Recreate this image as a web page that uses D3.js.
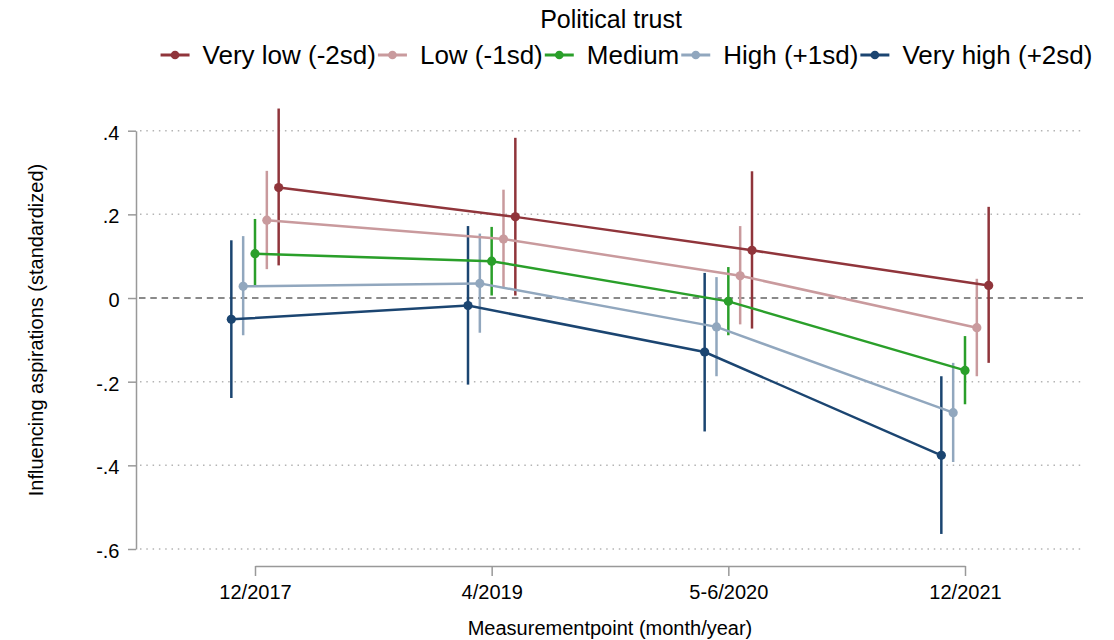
<!DOCTYPE html>
<html><head><meta charset="utf-8">
<script src="https://cdn.jsdelivr.net/npm/d3@7"></script>
<style>
body{margin:0;background:#fff}
svg{display:block}
text{font-family:"Liberation Sans",Arial,Helvetica,sans-serif;fill:#000}
</style>
</head><body>
<svg id="c" width="1114" height="640"></svg>
<script>
// ---- data ----
const categories = ["12/2017", "4/2019", "5-6/2020", "12/2021"];
const seriesNames = ["Very low (-2sd)", "Low (-1sd)", "Medium", "High (+1sd)", "Very high (+2sd)"];
const seriesColors = ["#90353b", "#c99a9d", "#2a9f2a", "#91a7be", "#1b4571"];

const estVeryLow  = [0.264, 0.194, 0.114, 0.030];
const loVeryLow   = [0.078, 0.006, -0.073, -0.155];
const hiVeryLow   = [0.453, 0.383, 0.303, 0.218];

const estLow      = [0.186, 0.141, 0.053, -0.071];
const loLow       = [0.069, 0.026, -0.063, -0.187];
const hiLow       = [0.304, 0.259, 0.172, 0.046];

const estMedium   = [0.106, 0.088, -0.008, -0.173];
const loMedium    = [0.030, 0.006, -0.089, -0.254];
const hiMedium    = [0.189, 0.170, 0.074, -0.091];

const estHigh     = [0.028, 0.035, -0.069, -0.274];
const loHigh      = [-0.089, -0.083, -0.187, -0.392];
const hiHigh      = [0.148, 0.154, 0.050, -0.155];

const estVeryHigh = [-0.051, -0.018, -0.129, -0.376];
const loVeryHigh  = [-0.239, -0.207, -0.319, -0.564];
const hiVeryHigh  = [0.138, 0.172, 0.060, -0.187];

const yTicks = [0.4, 0.2, 0, -0.2, -0.4, -0.6];
const yTickLabels = [".4", ".2", "0", "-.2", "-.4", "-.6"];

const estimates = [estVeryLow, estLow, estMedium, estHigh, estVeryHigh];
const lows = [loVeryLow, loLow, loMedium, loHigh, loVeryHigh];
const highs = [hiVeryLow, hiLow, hiMedium, hiHigh, hiVeryHigh];
const dodge = 0.05; // category units between adjacent series

// ---- scales ----
const svg = d3.select("#c");
const xBand = d3.scalePoint().domain(categories).range([255, 965]);
const xLin = d3.scaleLinear().domain([0, categories.length - 1]).range([255, 965]);
const y = d3.scaleLinear().domain([-0.6, 0.4]).range([549, 130.7]);
const plotL = 140, plotR = 1083;

// ---- gridlines ----
svg.append("g").selectAll("line")
  .data(yTicks.filter(d => d !== 0)).join("line")
  .attr("x1", plotL).attr("x2", plotR)
  .attr("y1", d => y(d)).attr("y2", d => y(d))
  .attr("stroke", "#b4b4b4").attr("stroke-width", 1.5)
  .attr("stroke-dasharray", "1.5,4.8");

svg.append("line")
  .attr("x1", 139).attr("x2", plotR)
  .attr("y1", y(0)).attr("y2", y(0))
  .attr("stroke", "#8a8a8a").attr("stroke-width", 2)
  .attr("stroke-dasharray", "6.5,4.8");

// ---- axes ----
const yAxis = svg.append("g").attr("transform", "translate(136,0)")
  .call(d3.axisLeft(y).tickValues(yTicks).tickFormat((d, i) => yTickLabels[i])
    .tickSize(8).tickSizeOuter(0).tickPadding(8.5));
yAxis.select(".domain").attr("stroke", "#999").attr("stroke-width", 1.5);
yAxis.selectAll(".tick line").attr("stroke", "#999").attr("stroke-width", 1.5);
yAxis.selectAll(".tick text").attr("font-size", 20).attr("dy", "0.43em")
  .attr("font-family", null).style("fill", "#000");

const xAxis = svg.append("g").attr("transform", "translate(0,566)")
  .call(d3.axisBottom(xBand).tickSize(10).tickSizeOuter(0));
xAxis.select(".domain").attr("stroke", "#999").attr("stroke-width", 1.5);
xAxis.selectAll(".tick line").attr("stroke", "#999").attr("stroke-width", 1.5);
xAxis.selectAll(".tick text").attr("font-size", 20).attr("y", 33).attr("dy", 0)
  .attr("font-family", null).style("fill", "#000");

// ---- axis titles ----
svg.append("text").attr("transform", "translate(43,330) rotate(-90)")
  .attr("text-anchor", "middle").attr("font-size", 20)
  .text("Influencing aspirations (standardized)");
svg.append("text").attr("x", 610).attr("y", 635)
  .attr("text-anchor", "middle").attr("font-size", 20)
  .text("Measurementpoint (month/year)");

// ---- data marks ----
const xPos = (j, i) => xLin(j + (2 - i) * dodge);

const ciG = svg.append("g");
seriesNames.forEach((name, i) => {
  ciG.append("g").selectAll("line")
    .data(categories.map((c, j) => j)).join("line")
    .attr("x1", j => xPos(j, i)).attr("x2", j => xPos(j, i))
    .attr("y1", j => y(lows[i][j])).attr("y2", j => y(highs[i][j]))
    .attr("stroke", seriesColors[i]).attr("stroke-width", 2.5);
});

const lineG = svg.append("g");
seriesNames.forEach((name, i) => {
  const line = d3.line().x((d, j) => xPos(j, i)).y(d => y(d));
  lineG.append("path").datum(estimates[i])
    .attr("d", line).attr("fill", "none")
    .attr("stroke", seriesColors[i]).attr("stroke-width", 2.5);
  lineG.append("g").selectAll("circle")
    .data(estimates[i]).join("circle")
    .attr("cx", (d, j) => xPos(j, i)).attr("cy", d => y(d)).attr("r", 4.6)
    .attr("fill", seriesColors[i]);
});

// ---- legend ----
svg.append("text").attr("x", 611).attr("y", 27.7)
  .attr("text-anchor", "middle").attr("font-size", 25).text("Political trust");

const leg = svg.append("g");
const items = seriesNames.map((name, i) => {
  const g = leg.append("g");
  g.append("line").attr("x1", 0).attr("x2", 29).attr("y1", 55).attr("y2", 55)
    .attr("stroke", seriesColors[i]).attr("stroke-width", 3);
  g.append("circle").attr("cx", 14.5).attr("cy", 55).attr("r", 4.3).attr("fill", seriesColors[i]);
  const t = g.append("text").attr("x", 42).attr("y", 64).attr("font-size", 26).text(name);
  return {g, w: 42 + t.node().getComputedTextLength()};
});
const gap = 2;
const total = d3.sum(items, d => d.w) + gap * (items.length - 1);
let x0 = 626.5 - total / 2;
items.forEach(it => { it.g.attr("transform", `translate(${x0},0)`); x0 += it.w + gap; });
</script>
</body></html>
